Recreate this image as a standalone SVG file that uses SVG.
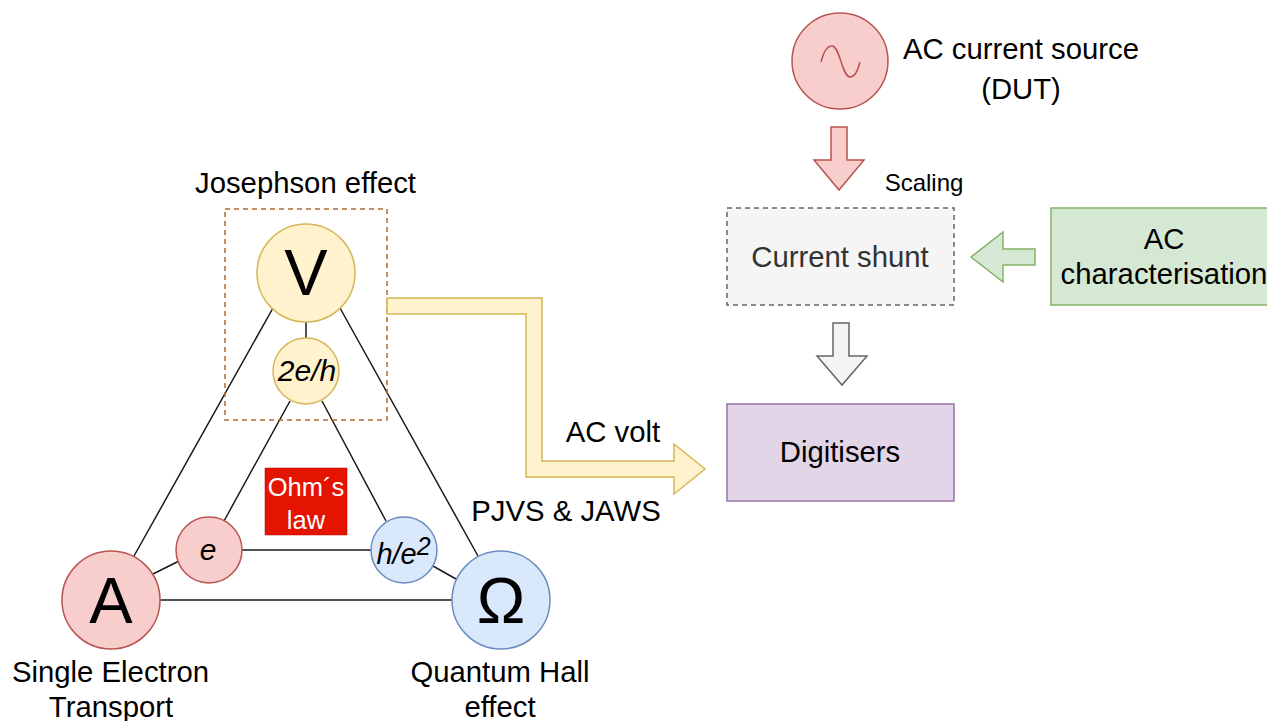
<svg xmlns="http://www.w3.org/2000/svg" width="1267" height="721" viewBox="0 0 1267 721">
<style>
text{font-family:"Liberation Sans",Arial,sans-serif;fill:#000;text-anchor:middle}
.l{font-size:29.3px}
.m{font-size:65px}
.i{font-size:30px;font-style:italic}
.c{fill:none;stroke:#1a1a1a;stroke-width:1.5}
.y{fill:#fff2cc;stroke:#d6b656;stroke-width:1.5}
.r{fill:#f8cecc;stroke:#b85450;stroke-width:1.5}
.b{fill:#dae8fc;stroke:#6c8ebf;stroke-width:1.5}
.g{fill:#d5e8d4;stroke:#82b366;stroke-width:1.5}
.w{fill:#f5f5f5;stroke:#666;stroke-width:1.5}
.p{fill:#e1d5e7;stroke:#9673a6;stroke-width:1.5}
</style>
<g id="connectors">
<path class="c" d="M306 322V338M273 308L134 556M340 308L478 556M290 401L224 521M322 401L386 521M242 550H371M160 600H452M153 574L179 561M433 566L456 579"/>
</g>
<g id="josephson-box"><rect x="225" y="209" width="162" height="211" fill="none" stroke="#ae6a2f" stroke-width="1.5" stroke-dasharray="5 4"/>
<text class="l" x="305.500" y="193">Josephson effect</text></g>
<g id="node-v"><circle class="y" cx="306" cy="273" r="49"/><text class="m" x="306" y="295">V</text></g>
<g id="node-2eh"><circle class="y" cx="306" cy="371" r="33"/><text class="i" x="307" y="381">2e/h</text></g>
<g id="node-a"><circle class="r" cx="111" cy="600" r="49"/><text class="m" x="111" y="623">A</text>
<text class="l" x="110.500" y="682">Single Electron</text><text class="l" x="111" y="717">Transport</text></g>
<g id="node-ohm"><circle class="b" cx="501" cy="600" r="49"/><text class="m" x="501" y="623">Ω</text>
<text class="l" x="500" y="682">Quantum Hall</text><text class="l" x="500" y="717">effect</text></g>
<g id="node-e"><circle class="r" cx="209" cy="550" r="33"/><text class="i" x="208" y="560">e</text></g>
<g id="node-he2"><circle class="b" cx="404" cy="550" r="33"/><text class="i" x="403.500" y="564" style="font-size:29px">h/e<tspan dy="-9" font-size="25">2</tspan></text></g>
<g id="ohms-law"><rect x="265" y="468" width="82" height="67" fill="#e51400" stroke="#b20000" stroke-width="0.5"/>
<text x="306" y="496" font-size="25.500" style="fill:#fff">Ohm´s</text><text x="306" y="529" font-size="25.500" style="fill:#fff">law</text></g>
<g id="ac-volt-arrow"><path class="y" d="M387 298H542V461H674V444L705 469L674 494V477H526V314H387Z"/>
<text class="l" x="613" y="442">AC volt</text><text class="l" x="566" y="521">PJVS &amp; JAWS</text></g>
<g id="ac-source"><circle class="r" cx="840" cy="61" r="48"/><path d="M821 62C824 50 828 46 832 46C840 46 842 77 850 77C855 77 858 70 860 62" fill="none" stroke="#b85450" stroke-width="1.5"/>
<text class="l" x="1021" y="59">AC current source</text><text class="l" x="1021" y="99">(DUT)</text></g>
<g id="arrow-red"><path class="r" d="M831 127H847V160H864L839 190L814 160H831Z"/></g>
<text x="924" y="191" font-size="24">Scaling</text>
<g id="current-shunt"><rect x="727" y="208" width="227" height="97" fill="#f5f5f5" stroke="#666" stroke-width="1.5" stroke-dasharray="5 4"/><text class="l" x="840" y="267" style="fill:#333">Current shunt</text></g>
<g id="arrow-green"><path class="g" d="M1035 249V265H1003V282L971 257L1003 232V249Z"/></g>
<g id="ac-characterisation"><rect class="g" x="1051" y="208" width="240" height="97"/><text class="l" x="1164" y="249">AC</text><text class="l" x="1164" y="284">characterisation</text></g>
<g id="arrow-grey"><path class="w" d="M833 323H849V356H867L842 385L817 356H833Z"/></g>
<g id="digitisers"><rect class="p" x="727" y="404" width="227" height="97"/><text class="l" x="840" y="462">Digitisers</text></g>
</svg>
